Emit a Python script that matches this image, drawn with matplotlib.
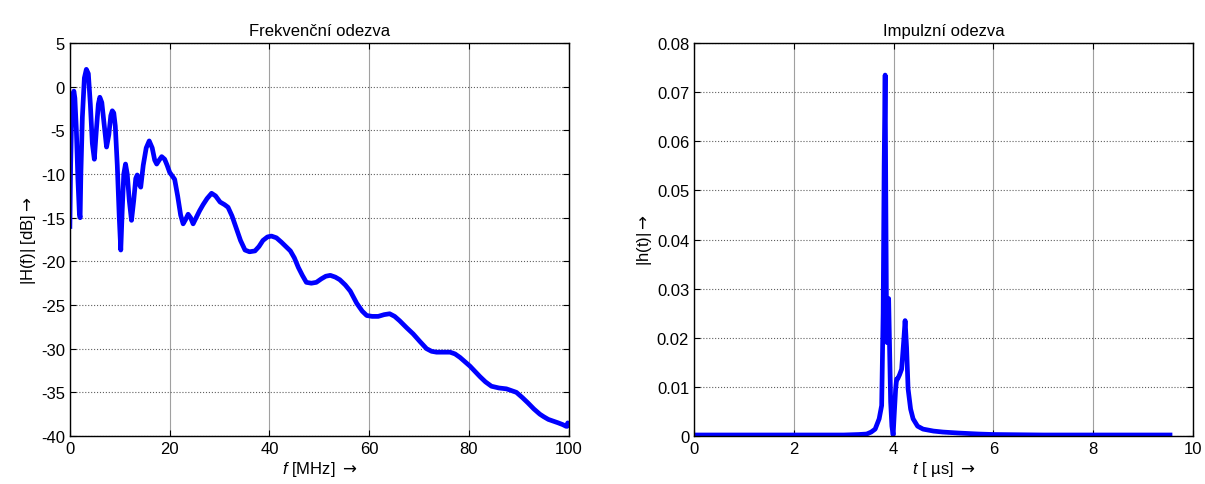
import matplotlib
matplotlib.use('Agg')
import matplotlib.pyplot as plt

plt.rcParams['font.family'] = ['Liberation Sans', 'DejaVu Sans']
plt.rcParams['mathtext.fontset'] = 'custom'
plt.rcParams['mathtext.rm'] = 'Liberation Sans'
plt.rcParams['mathtext.it'] = 'Liberation Sans:italic'
plt.rcParams['mathtext.sf'] = 'DejaVu Sans'
plt.rcParams['axes.unicode_minus'] = False

# frekvencni odezva: f [MHz], |H(f)| [dB]
freq = [0.0, 0.15, 0.35, 0.6, 0.8, 1.0, 1.3, 1.6, 1.9, 2.05, 2.2, 2.5, 2.9, 3.3, 3.7,
        4.1, 4.5, 4.9, 5.3, 5.7, 6.0, 6.4, 6.9, 7.35, 7.8, 8.2, 8.5, 8.8, 9.1, 9.5,
        9.9, 10.2, 10.5, 10.8, 11.15, 11.5, 11.9, 12.35, 12.8, 13.2, 13.5, 13.9, 14.2,
        14.7, 15.3, 15.9, 16.5, 17.0, 17.4, 17.9, 18.4, 19.0, 19.5, 20.0, 20.5, 21.0,
        21.6, 22.2, 22.7, 23.2, 23.7, 24.2, 24.7, 25.3, 26.0, 26.7, 27.5, 28.4, 29.2,
        30.1, 31.0, 31.7, 32.5, 33.4, 34.2, 35.1, 36.0, 37.1, 37.9, 38.7, 39.6, 40.4,
        41.4, 42.4, 43.3, 44.2, 45.0, 45.8, 46.6, 47.4, 48.4, 49.4, 50.4, 51.3, 52.2,
        53.2, 54.1, 55.2, 56.2, 57.5, 58.6, 59.5, 60.6, 61.8, 63.0, 64.1, 65.1, 66.1,
        67.5, 68.8, 70.2, 71.5, 72.5, 73.5, 74.8, 76.2, 77.2, 78.2, 79.2, 80.2, 81.2,
        82.2, 83.3, 84.5, 86.0, 87.5, 88.5, 89.5, 90.7, 91.8, 93.0, 94.2, 95.0, 95.9,
        96.9, 97.9, 98.8, 99.5, 99.8, 100.0]
gain = [-16.0, -9.0, -3.5, -1.0, -0.5, -1.3, -5.0, -10.5, -14.5, -15.0, -10.0, -3.5, 1.0, 2.0, 1.5,
        -2.0, -6.5, -8.3, -5.0, -2.0, -1.2, -1.8, -4.5, -6.9, -5.5, -3.3, -2.75, -3.0, -4.5, -9.0,
        -15.0, -18.7, -14.0, -10.0, -8.85, -10.0, -13.0, -15.3, -13.0, -10.5, -10.1, -11.2, -11.5,
        -9.0, -7.0, -6.2, -7.0, -8.4, -8.85, -8.4, -8.0, -8.3, -9.0, -9.8, -10.2, -10.6,
        -12.5, -14.7, -15.7, -15.2, -14.6, -15.0, -15.7, -15.0, -14.2, -13.5, -12.8, -12.2, -12.5,
        -13.2, -13.5, -13.8, -14.8, -16.3, -17.6, -18.7, -18.9, -18.8, -18.3, -17.6, -17.2, -17.1,
        -17.3, -17.8, -18.3, -18.8, -19.6, -20.7, -21.6, -22.4, -22.5, -22.4, -22.0, -21.7, -21.6,
        -21.8, -22.1, -22.7, -23.4, -24.8, -25.7, -26.2, -26.3, -26.3, -26.1, -26.0, -26.3, -26.8,
        -27.6, -28.3, -29.2, -30.0, -30.3, -30.4, -30.4, -30.4, -30.6, -31.0, -31.5, -32.0, -32.6,
        -33.2, -33.8, -34.3, -34.5, -34.6, -34.8, -35.0, -35.6, -36.2, -36.9, -37.5, -37.8, -38.1,
        -38.3, -38.5, -38.7, -38.9, -38.5, -38.8]

# impulzni odezva: t [us], |h(t)|
t_us = [0.0, 1.0, 2.0, 3.0, 3.3, 3.46, 3.55, 3.63, 3.71, 3.76, 3.79, 3.81, 3.83, 3.845,
        3.855, 3.87, 3.885, 3.9, 3.915, 3.94, 3.965, 3.99, 4.01, 4.04, 4.06, 4.08, 4.12,
        4.16, 4.2, 4.23, 4.26, 4.29, 4.34, 4.39, 4.48, 4.59, 4.8, 4.99, 5.3, 5.7, 6.0,
        7.0, 8.0, 9.0, 9.54]
h_t = [0.0002, 0.0002, 0.0002, 0.0002, 0.0003, 0.0004, 0.0008, 0.0014, 0.0035, 0.0062, 0.025, 0.055, 0.0735, 0.045,
       0.028, 0.019, 0.024, 0.028, 0.02, 0.007, 0.002, 0.0002, 0.004, 0.0095, 0.0116, 0.0116, 0.0125,
       0.0136, 0.019, 0.0235, 0.018, 0.0096, 0.0055, 0.0035, 0.002, 0.0014, 0.001, 0.0008, 0.0006, 0.0004, 0.0003,
       0.0002, 0.0002, 0.0002, 0.0002]

fig = plt.figure(figsize=(12.05, 4.85), dpi=100)
ax1 = fig.add_axes([0.058, 0.099, 0.414, 0.810])
ax2 = fig.add_axes([0.576, 0.099, 0.414, 0.810])

fs = 12
for ax in (ax1, ax2):
    ax.tick_params(direction='in', top=True, right=True, length=4, width=0.8, labelsize=fs)
    ax.xaxis.grid(True, color='#a0a0a0', linestyle='-', linewidth=0.8)
    ax.yaxis.grid(True, color='#606060', linestyle=':', linewidth=0.8)
    ax.set_axisbelow(True)
    for s in ax.spines.values():
        s.set_linewidth(1.0)

arrow = r'$\mathsf{\rightarrow}$'

ax1.plot(freq, gain, color='#0000ff', linewidth=3.4, solid_joinstyle='round')
ax1.set_xlim(0, 100)
ax1.set_ylim(-40, 5)
ax1.set_xticks(range(0, 101, 20))
ax1.set_yticks(range(-40, 6, 5))
ax1.set_title('Frekvenční odezva', fontsize=fs)
ax1.set_xlabel('$f$ [MHz] ' + arrow, fontsize=fs, labelpad=2)
ax1.set_ylabel('|H(f)| [dB]' + arrow, fontsize=fs, labelpad=2)

ax2.plot(t_us, h_t, color='#0000ff', linewidth=3.4, solid_joinstyle='round')
ax2.set_xlim(0, 10)
ax2.set_ylim(0, 0.08)
ax2.set_xticks(range(0, 11, 2))
ax2.set_yticks([0, 0.01, 0.02, 0.03, 0.04, 0.05, 0.06, 0.07, 0.08])
ax2.set_yticklabels(['0', '0.01', '0.02', '0.03', '0.04', '0.05', '0.06', '0.07', '0.08'])
ax2.set_title('Impulzní odezva', fontsize=fs)
ax2.set_xlabel('$t$ [ \u00b5s] ' + arrow, fontsize=fs, labelpad=2)
ax2.set_ylabel('|h(t)|' + arrow, fontsize=fs, labelpad=2)

fig.savefig('out.png', dpi=100)
